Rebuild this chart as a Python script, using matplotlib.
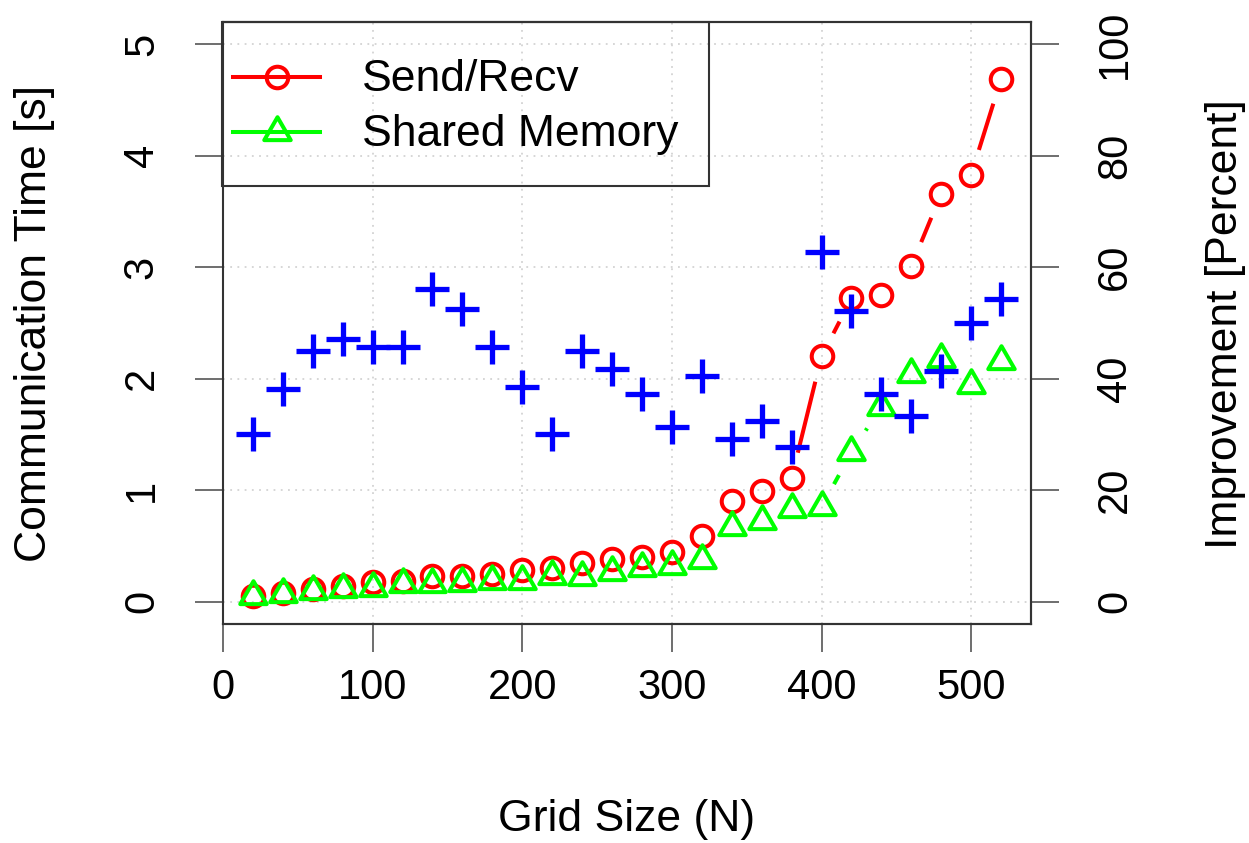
import matplotlib
matplotlib.use("Agg")
import matplotlib.pyplot as plt
import numpy as np
from matplotlib.lines import Line2D
from matplotlib.patches import Rectangle
from matplotlib.path import Path

plt.rcParams["font.family"] = ["Liberation Sans", "DejaVu Sans"]

# データ
grid_n = [20, 40, 60, 80, 100, 120, 140, 160, 180, 200, 220, 240, 260,
          280, 300, 320, 340, 360, 380, 400, 420, 440, 460, 480, 500, 520]
send_recv = [0.05, 0.08, 0.11, 0.14, 0.18, 0.19, 0.23, 0.23, 0.25, 0.28, 0.30, 0.35, 0.38,
             0.40, 0.45, 0.59, 0.90, 0.99, 1.11, 2.20, 2.72, 2.75, 3.01, 3.66, 3.83, 4.69]
shared_mem = [0.05, 0.07, 0.10, 0.11, 0.12, 0.16, 0.16, 0.17, 0.19, 0.19, 0.23, 0.22, 0.27,
              0.30, 0.32, 0.37, 0.67, 0.72, 0.83, 0.85, 1.34, 1.75, 2.04, 2.18, 1.94, 2.16]
improvement = [30.1, 38.2, 45.0, 47.1, 45.7, 45.7, 56.1, 52.5, 45.7, 38.5, 30.1, 45.0, 41.8,
               37.3, 31.4, 40.5, 29.2, 32.4, 27.8, 62.7, 52.2, 37.3, 33.3, 41.4, 50.0, 54.3]

series_labels = ["Send/Recv", "Shared Memory"]
x_ticks = [0, 100, 200, 300, 400, 500]
left_ticks = [0, 1, 2, 3, 4, 5]
right_ticks = [0, 20, 40, 60, 80, 100]

RED = "#ff0000"
GREEN = "#00ff00"
BLUE = "#0000ff"
BOX = "#333333"
TICK = "#555555"

# 正三角形マーカー（Rの pch=2 風）
tri = Path([(-1.0, -0.577), (1.0, -0.577), (0.0, 1.155), (-1.0, -0.577)],
           [Path.MOVETO, Path.LINETO, Path.LINETO, Path.CLOSEPOLY])

CIRCLE_KW = dict(marker="o", ms=15.5, mew=2.9, mfc="none")
TRI_KW = dict(marker=tri, ms=22, mew=2.9, mfc="none")


def draw_gapped_line(ax, xs, ys, color, gap_px=26, lw=2.9):
    """R の type='b' のように点の周りを空けて線分を描く。"""
    pts = ax.transData.transform(np.column_stack([xs, ys]))
    inv = ax.transData.inverted()
    for (x0, y0), (x1, y1) in zip(pts[:-1], pts[1:]):
        d = np.hypot(x1 - x0, y1 - y0)
        if d <= 2 * gap_px:
            continue
        ux, uy = (x1 - x0) / d, (y1 - y0) / d
        a = inv.transform([x0 + ux * gap_px, y0 + uy * gap_px])
        b = inv.transform([x1 - ux * gap_px, y1 - uy * gap_px])
        ax.plot([a[0], b[0]], [a[1], b[1]], color=color, lw=lw,
                solid_capstyle="butt", zorder=3)


fig = plt.figure(figsize=(12.49, 8.43), dpi=100)
AX_L, AX_T, AX_W, AX_H = 223, 22, 808, 602
ax = fig.add_axes([AX_L / 1249, 1 - (AX_T + AX_H) / 843, AX_W / 1249, AX_H / 843])
ax.set_xlim(0, 540)
ax.set_ylim(-0.2, 5.2)

ax.set_xticks(x_ticks)
ax.set_yticks(left_ticks)
ax.grid(True, color="#d3d3d3", linestyle=(0, (1, 3)), lw=1.3)
ax.set_axisbelow(True)

draw_gapped_line(ax, grid_n, send_recv, RED)
draw_gapped_line(ax, grid_n, shared_mem, GREEN)
ax.plot(grid_n, send_recv, linestyle="none", mec=RED, zorder=4, **CIRCLE_KW)
ax.plot(grid_n, shared_mem, linestyle="none", mec=GREEN, zorder=4, **TRI_KW)

ax2 = ax.twinx()
ax2.set_ylim(-4, 104)
ax2.set_yticks(right_ticks)
ax2.plot(grid_n, improvement, linestyle="none", marker="+", ms=25, mew=3.8,
         color=BLUE, zorder=5)

for a in (ax, ax2):
    for s in a.spines.values():
        s.set_color(BOX)
        s.set_linewidth(1.5)
ax.spines["left"].set_linestyle((0, (2, 1)))
ax2.spines["left"].set_visible(False)

ax.tick_params(axis="both", direction="out", length=20, width=1.2, color=TICK,
               labelsize=30)
ax.tick_params(axis="x", pad=12)
ax.tick_params(axis="y", labelrotation=90, pad=24)
for t in ax.get_yticklabels():
    t.set_va("center")
ax2.tick_params(axis="y", direction="out", length=20, width=1.2, color=TICK,
                labelsize=30, labelrotation=90, pad=26)
for t in ax2.get_yticklabels():
    t.set_va("center")

ymid = 1 - 324 / 843
fig.text(35 / 1249, ymid, "Communication Time [s]", rotation=90,
         ha="center", va="center", fontsize=32)
fig.text(1225 / 1249, ymid, "Improvement [Percent]", rotation=90,
         ha="center", va="center", fontsize=32)
fig.text(627 / 1249, 1 - 820 / 843, "Grid Size (N)", ha="center", va="center",
         fontsize=32)


# 凡例（R の legend 風：枠のみ、背景なし）
def px_x(px):
    return (px - AX_L) / AX_W


def px_y(py):
    return 1 - (py - AX_T) / AX_H


ta = ax2.transAxes
ax2.add_patch(Rectangle((px_x(222), px_y(186)), px_x(709) - px_x(222),
                        px_y(22) - px_y(186), transform=ta, fill=False,
                        edgecolor=BOX, lw=1.5, clip_on=False, zorder=6))
rows = [(77, RED, CIRCLE_KW), (132, GREEN, TRI_KW)]
for (row_y, color, kw), label in zip(rows, series_labels):
    ax2.add_line(Line2D([px_x(233), px_x(320)], [px_y(row_y)] * 2, color=color,
                        lw=2.9, transform=ta, clip_on=False, zorder=6))
    ax2.add_line(Line2D([px_x(276.5)], [px_y(row_y)], color=color, mec=color,
                        linestyle="none", transform=ta, clip_on=False, zorder=6,
                        **kw))
    ax2.text(px_x(362), px_y(row_y + 3), label, transform=ta, fontsize=32,
             ha="left", va="center", zorder=6)

fig.savefig("out.png", dpi=100)
